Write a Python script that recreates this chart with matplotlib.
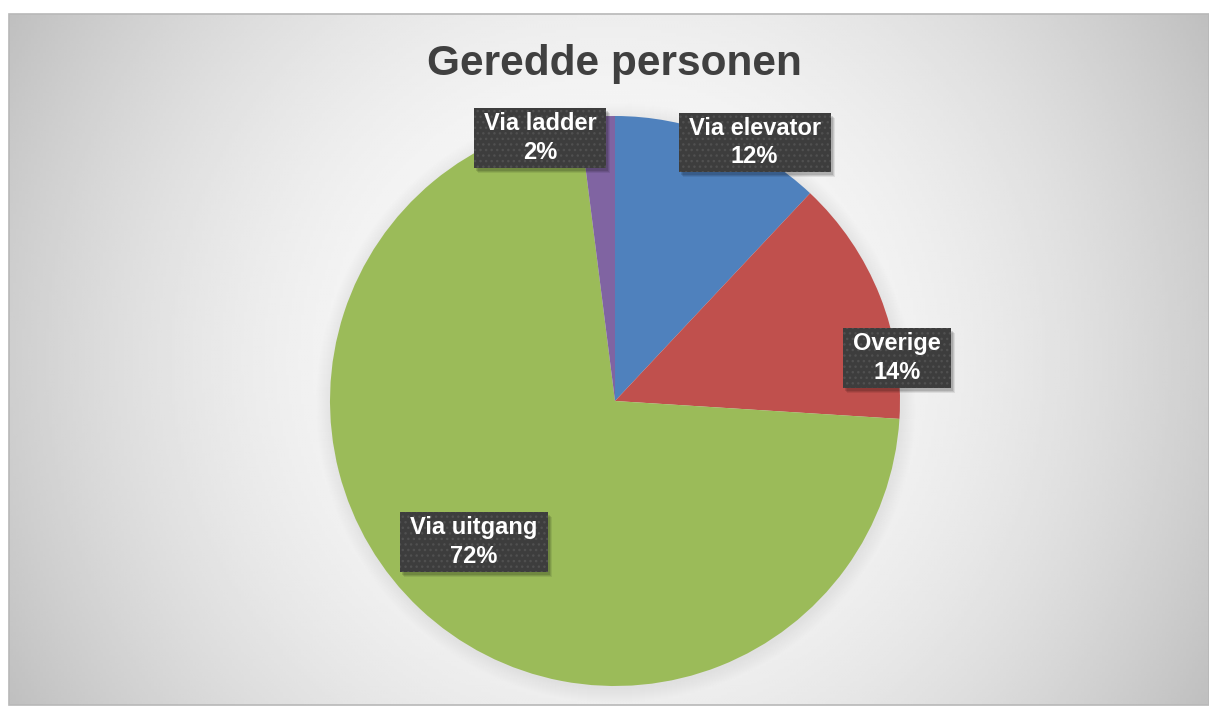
import numpy as np
import matplotlib.pyplot as plt
from matplotlib.patches import Circle, Rectangle

plt.rcParams['font.family'] = ['Liberation Sans', 'DejaVu Sans']
plt.rcParams['hatch.color'] = '#505050'
plt.rcParams['hatch.linewidth'] = 1.0

# Data
title = 'Geredde personen'
categories = ['Via elevator', 'Overige', 'Via uitgang', 'Via ladder']
shares = [12, 14, 72, 2]  # %
colors = ['#4F81BD', '#C0504D', '#9BBB59', '#8064A2']

# label placement: (angle in degrees, distance in pie radii)
label_pos = [(61.6, 1.03), (8.7, 1.0), (225.0, 0.70), (105.9, 0.96)]

W, H = 1209, 706
fig = plt.figure(figsize=(W / 100, H / 100), dpi=100)
ax = fig.add_axes([0, 0, 1, 1])

# chart area with radial gradient
x0, x1, y0, y1 = 9, 1209, 1, 692
gx, gy = np.meshgrid(np.linspace(x0, x1, 400), np.linspace(y0, y1, 240))
gcx, gcy = (x0 + x1) / 2, (y0 + y1) / 2
d = np.hypot(gx - gcx, gy - gcy) / np.hypot(x1 - gcx, y1 - gcy)
shade = 0.99 - 0.24 * d ** 2
ax.imshow(shade, extent=(x0, x1, y0, y1), origin='lower', cmap='gray',
          vmin=0, vmax=1, interpolation='bilinear', zorder=0, aspect='auto')
ax.add_patch(Rectangle((x0, y0), x1 - x0, y1 - y0, fill=False,
                       edgecolor='#b8b8b8', lw=1.2, zorder=1))

# pie
cx, cy, R = 615, 305, 285
for i in range(1, 16):
    ax.add_patch(Circle((cx + 1, cy - 2), R + i, color='black', alpha=0.005,
                        lw=0, zorder=1))
ax.pie(shares, colors=colors, startangle=90, counterclock=False,
       center=(cx, cy), radius=R, wedgeprops=dict(linewidth=0, zorder=2),
       frame=True)

ax.set_xlim(0, W)
ax.set_ylim(0, H)
ax.set_aspect('auto')
ax.axis('off')

ax.text(614, H - 75, title, ha='center', va='baseline', fontsize=30.5,
        fontweight='bold', color='#404040', zorder=5)

labels = []
for cat, val, (ang, dist) in zip(categories, shares, label_pos):
    tx = cx + dist * R * np.cos(np.radians(ang))
    ty = cy + dist * R * np.sin(np.radians(ang))
    t = ax.text(tx, ty, '{}\n{}%'.format(cat, val), ha='center', va='center',
                fontsize=17, fontweight='bold', color='white', linespacing=1.3,
                zorder=8)
    labels.append(t)

# dark patterned boxes with soft drop shadows behind the labels
fig.canvas.draw()
renderer = fig.canvas.get_renderer()
inv = ax.transData.inverted()
padx, pady = 10, 4
for t in labels:
    bb = t.get_window_extent(renderer)
    (bx0, by0), (bx1, by1) = inv.transform([[bb.x0, bb.y0], [bb.x1, bb.y1]])
    bx0, by0, bx1, by1 = bx0 - padx, by0 - pady, bx1 + padx, by1 + pady
    for k, a in [(5, 0.08), (4, 0.1), (3, 0.12)]:
        ax.add_patch(Rectangle((bx0 + k - 1, by0 - k), bx1 - bx0, by1 - by0,
                               facecolor='black', alpha=a, lw=0, zorder=6))
    ax.add_patch(Rectangle((bx0, by0), bx1 - bx0, by1 - by0,
                           facecolor='#3d3d3d', edgecolor='#505050',
                           hatch='...', lw=0, zorder=7))

fig.savefig('out.png', dpi=100)
